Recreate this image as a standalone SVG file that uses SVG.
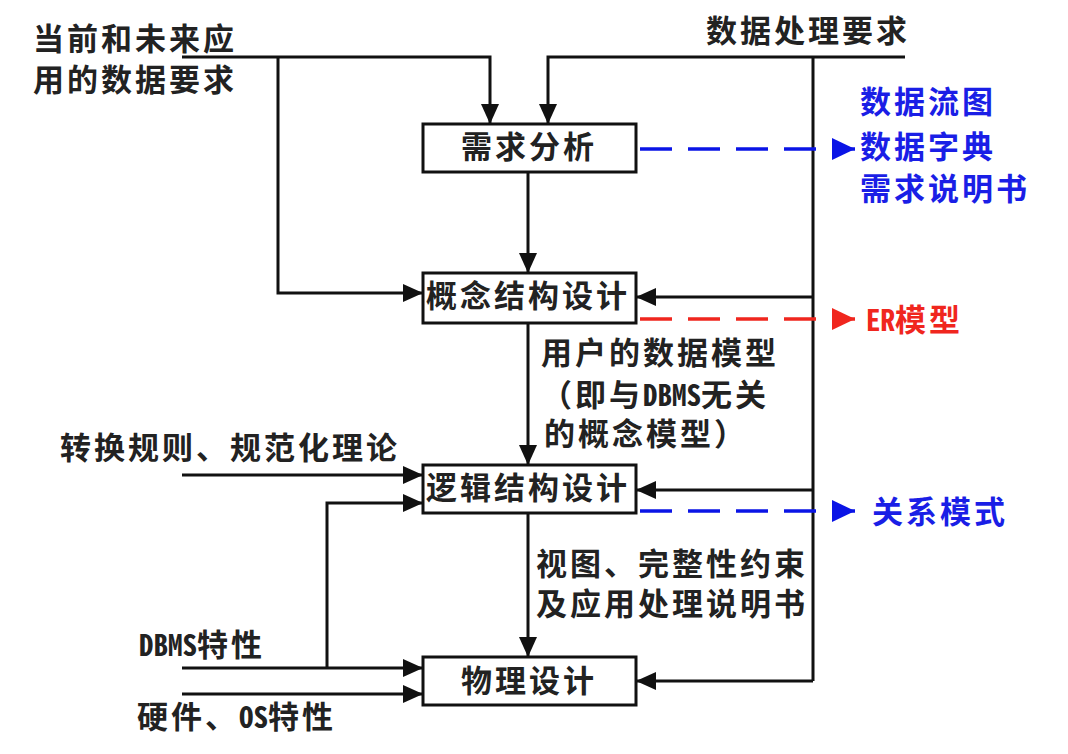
<svg xmlns="http://www.w3.org/2000/svg" width="1068" height="754" viewBox="0 0 1068 754">
<style>
text{font-family:"Noto Sans CJK SC","Noto Sans",sans-serif;font-size:31px;font-weight:700;letter-spacing:3px;fill:#222}
.lat{font-family:"Noto Sans Mono CJK SC","DejaVu Sans Mono",monospace;font-size:29px;letter-spacing:0}
.box{fill:#fff;stroke:#111;stroke-width:3}
.ln{fill:none;stroke:#111;stroke-width:3}
.db{fill:none;stroke:#0a14e6;stroke-width:3.5;stroke-dasharray:32 16}
.dr{fill:none;stroke:#f0261e;stroke-width:3.5;stroke-dasharray:32 16}
.blue{fill:#1a1ee6}
.red{fill:#f0261e}
</style>
<defs>
<marker id="ab" markerUnits="userSpaceOnUse" markerWidth="20" markerHeight="18" refX="20" refY="9" orient="auto"><path d="M0,0 L20,9 L0,18 z" fill="#111"/></marker>
<marker id="abl" markerUnits="userSpaceOnUse" markerWidth="23" markerHeight="22" refX="23" refY="11" orient="auto"><path d="M0,0 L23,11 L0,22 z" fill="#0a14e6"/></marker>
<marker id="ard" markerUnits="userSpaceOnUse" markerWidth="23" markerHeight="22" refX="23" refY="11" orient="auto"><path d="M0,0 L23,11 L0,22 z" fill="#f0261e"/></marker>
</defs>
<rect width="1068" height="754" fill="#fff"/>
<g id="connectors">
<path class="ln" d="M182,57 H490 V124" marker-end="url(#ab)"/>
<path class="ln" d="M278,57 V293 H423" marker-end="url(#ab)"/>
<path class="ln" d="M905,57 H548 V124" marker-end="url(#ab)"/>
<path class="ln" d="M813,57 V681"/>
<path class="ln" d="M813,297 H636" marker-end="url(#ab)"/>
<path class="ln" d="M813,490 H636" marker-end="url(#ab)"/>
<path class="ln" d="M813,681 H636" marker-end="url(#ab)"/>
<path class="ln" d="M528,172 V273" marker-end="url(#ab)"/>
<path class="ln" d="M528,323 V465" marker-end="url(#ab)"/>
<path class="ln" d="M528,513 V657" marker-end="url(#ab)"/>
<path class="ln" d="M182,475 H423" marker-end="url(#ab)"/>
<path class="ln" d="M327,668 V503 H423" marker-end="url(#ab)"/>
<path class="ln" d="M182,668 H423" marker-end="url(#ab)"/>
<path class="ln" d="M182,694 H423" marker-end="url(#ab)"/>
<path class="db" d="M640,149 H855" marker-end="url(#abl)"/>
<path class="dr" d="M640,319 H855" marker-end="url(#ard)"/>
<path class="db" d="M640,511 H855" marker-end="url(#abl)"/>
</g>
<g id="n-xuqiu"><rect class="box" x="423" y="124" width="213" height="48"/><text x="461" y="158">需求分析</text></g>
<g id="n-gainian"><rect class="box" x="423" y="273" width="213" height="50"/><text x="426" y="307">概念结构设计</text></g>
<g id="n-luoji"><rect class="box" x="423" y="465" width="213" height="48"/><text x="426" y="499">逻辑结构设计</text></g>
<g id="n-wuli"><rect class="box" x="423" y="657" width="213" height="48"/><text x="461" y="692">物理设计</text></g>
<g id="labels">
<text x="33" y="50">当前和未来应</text>
<text x="33" y="91">用的数据要求</text>
<text x="706" y="42">数据处理要求</text>
<text class="blue" x="860" y="113">数据流图</text>
<text class="blue" x="860" y="158">数据字典</text>
<text class="blue" x="860" y="200">需求说明书</text>
<text class="red" x="866" y="331"><tspan class="lat">ER</tspan>模型</text>
<text class="blue" x="872" y="523">关系模式</text>
<text x="541" y="364">用户的数据模型</text>
<text x="541" y="406">（即与<tspan class="lat">DBMS</tspan>无关</text>
<text x="544" y="445">的概念模型）</text>
<text x="60" y="459">转换规则、规范化理论</text>
<text x="536" y="575">视图、完整性约束</text>
<text x="536" y="615">及应用处理说明书</text>
<text x="139" y="656"><tspan class="lat">DBMS</tspan>特性</text>
<text x="137" y="728">硬件、<tspan class="lat">OS</tspan>特性</text>
</g>
</svg>
